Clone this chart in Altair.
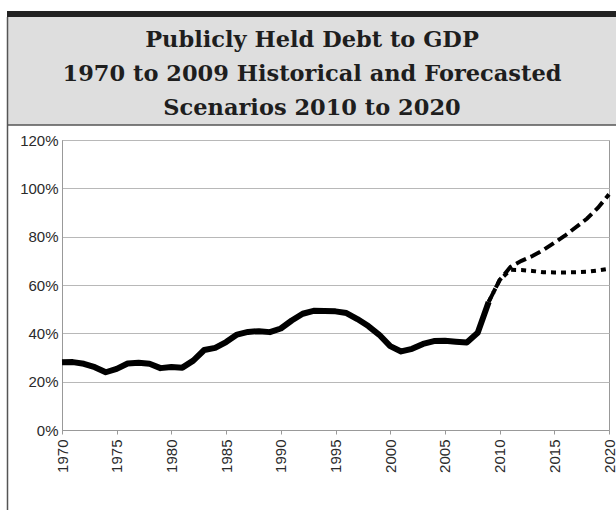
import altair as alt
import pandas as pd

# ---- data ----
hist_years = list(range(1970, 2010))
hist_vals = [28.0, 28.1, 27.4, 26.0, 23.9, 25.3, 27.5, 27.8, 27.4, 25.6,
             26.1, 25.8, 28.7, 33.1, 34.0, 36.4, 39.5, 40.6, 40.9, 40.5,
             42.0, 45.3, 48.1, 49.3, 49.2, 49.1, 48.4, 45.9, 43.0, 39.4,
             34.7, 32.5, 33.6, 35.6, 36.8, 36.9, 36.5, 36.2, 40.2, 53.0]
fc_years = list(range(2009, 2021))
fc_high = [53.0, 62.0, 67.5, 70.0, 72.0, 74.5, 77.5, 80.5, 84.0, 87.5, 92.0, 97.5]
fc_low = [53.0, 62.0, 66.3, 66.2, 65.8, 65.3, 65.2, 65.2, 65.3, 65.5, 66.0, 66.7]
x_ticks = [1970, 1975, 1980, 1985, 1990, 1995, 2000, 2005, 2010, 2015, 2020]
y_ticks = [0, 20, 40, 60, 80, 100, 120]
title_lines = ["Publicly Held Debt to GDP",
               "1970 to 2009 Historical and Forecasted",
               "Scenarios 2010 to 2020"]

hist_df = pd.DataFrame({"year": hist_years, "value": hist_vals})
high_df = pd.DataFrame({"year": fc_years, "value": fc_high})
low_df = pd.DataFrame({"year": fc_years, "value": fc_low})
dummy = pd.DataFrame({"a": [0]})

W, H = 547, 290

x_enc = alt.X("year:Q",
              scale=alt.Scale(domain=[1970, 2020], nice=False, zero=False),
              axis=alt.Axis(values=x_ticks, format="d", labelAngle=270, title=None,
                            grid=False, tickSize=4, labelPadding=5,
                            labelFont="Liberation Sans", labelFontSize=15,
                            labelColor="#2a2a2a", domainColor="#999", tickColor="#999"))
y_enc = alt.Y("value:Q",
              scale=alt.Scale(domain=[0, 120], nice=False),
              axis=alt.Axis(values=y_ticks, labelExpr="datum.value + '%'", title=None,
                            grid=True, gridColor="#b8b8b8", ticks=False, labelPadding=4,
                            labelFont="Liberation Sans", labelFontSize=15,
                            labelColor="#2a2a2a", domainColor="#999"))

# ---- decorations (frame around the graphic) ----
black_bar = alt.Chart(dummy).mark_rect(color="#222").encode(
    x=alt.value(-55), x2=alt.value(W + 7), y=alt.value(-129), y2=alt.value(-123))
grey_box = alt.Chart(dummy).mark_rect(color="#dedede").encode(
    x=alt.value(-55), x2=alt.value(W + 7), y=alt.value(-123), y2=alt.value(-15))
box_bottom = alt.Chart(dummy).mark_rule(color="#555", strokeWidth=1.5).encode(
    x=alt.value(-55), x2=alt.value(W + 7), y=alt.value(-15))
left_line = alt.Chart(dummy).mark_rule(color="#555", strokeWidth=1.5).encode(
    x=alt.value(-54.5), y=alt.value(-123), y2=alt.value(H + 80))

titles = []
for i, line in enumerate(title_lines):
    titles.append(alt.Chart(dummy).mark_text(
        font="DejaVu Serif", fontWeight="bold", fontSize=22.5, color="#1e1e1e",
        align="center", baseline="alphabetic").encode(
        x=alt.value(250), y=alt.value(-93 + i * 34), text=alt.value(line)))

# ---- data lines ----
hist_line = alt.Chart(hist_df).mark_line(
    color="black", strokeWidth=6, strokeJoin="round", strokeCap="butt").encode(x=x_enc, y=y_enc)
high_line = alt.Chart(high_df).mark_line(
    color="black", strokeWidth=4, strokeDash=[11, 5]).encode(x=x_enc, y=y_enc)
low_line = alt.Chart(low_df).mark_line(
    color="black", strokeWidth=4, strokeDash=[5, 5]).encode(x=x_enc, y=y_enc)

chart = alt.layer(
    black_bar, grey_box, box_bottom, left_line,
    hist_line, high_line, low_line, *titles
).properties(
    width=W, height=H,
    autosize=alt.AutoSizeParams(type="none"),
    padding={"left": 62, "top": 140, "right": 7, "bottom": 80},
    background="white"
).configure_view(stroke="#999", strokeWidth=1)

chart.save("out.html", embed_options={"renderer": "svg", "actions": False})
